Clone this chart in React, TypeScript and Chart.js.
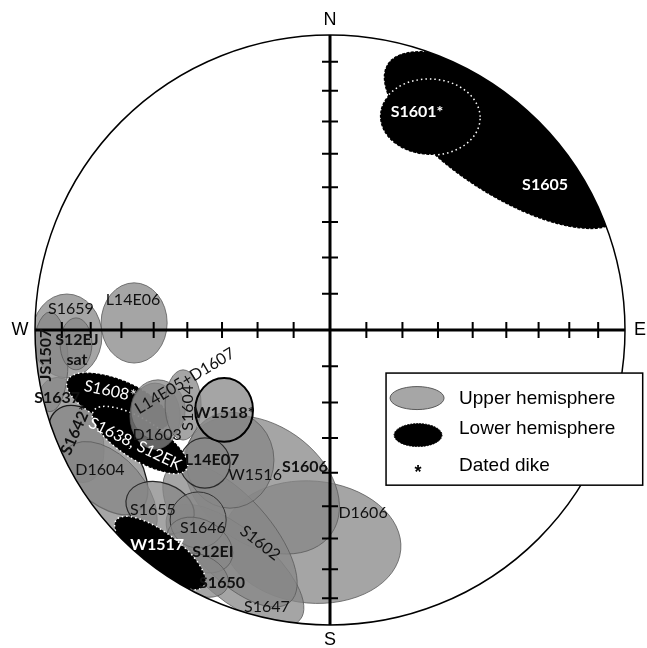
import React, { useEffect, useRef } from "react";
import { Chart, registerables } from "chart.js";
Chart.register(...registerables);

// ---- Data (units: % of primitive-circle radius; E = east, N = north) ----
// Ellipses in drawing order. azimuthA = compass direction of semi-axis A (deg).
const ellipseNames = [
  "D1606", "S1606", "S1647", "S1602", "W1516", "S1637", "S1642*", "D1604", "S1655", "S1646", "S12EI", "S1650",
  "L14E07", "S1659", "JS1507", "S12EJ sat", "L14E06", "S1608*", "S1638, S12EK",
  "D1603", "L14E05+D1607", "S1604", "W1518*", "W1517", "S1605", "S1601*",
];
const hemisphere = [
  "U", "U", "U", "U", "U", "U", "U", "U", "U", "U", "U", "U",
  "U", "U", "U", "U", "U", "L", "L",
  "U", "U", "U", "U", "L", "L", "L",
];
const centerE = [
  -6.1, -23.1, -32.2, -33.9, -33.9, -88.1, -78.6, -75.3, -57.6, -44.7, -44.1, -44.1,
  -42.4, -89.2, -94.9, -86.1, -66.4, -71.9, -64.4,
  -59.3, -58.3, -49.8, -35.9, -57.6, 59.3, 33.9,
];
const centerN = [
  -71.9, -52.5, -79.7, -69.5, -44.1, -33.9, -44.1, -55.9, -60.3, -64.4, -72.9, -83.1,
  -45.1, -2.0, -10.8, -4.7, 2.4, -24.4, -37.3,
  -29.2, -27.1, -25.4, -27.1, -75.6, 64.4, 72.2,
];
const semiA = [
  30.2, 28.8, 28.8, 30.5, 14.9, 18.6, 22.0, 21.0, 11.9, 9.5, 11.9, 10.2,
  8.5, 11.9, 6.1, 5.4, 11.2, 18.6, 18.6,
  8.5, 9.2, 6.1, 9.8, 18.6, 47.5, 17.0,
];
const semiB = [
  20.7, 20.3, 11.9, 13.6, 16.3, 10.2, 11.9, 12.9, 8.5, 9.5, 8.5, 6.8,
  8.5, 14.2, 16.9, 8.8, 13.6, 7.5, 6.8,
  11.2, 10.2, 11.9, 10.8, 6.8, 18.6, 12.9,
];
const azimuthA = [
  95, 125, 130, 138, 90, 160, 140, 140, 110, 90, 120, 115,
  90, 90, 90, 90, 90, 113, 122,
  90, 90, 90, 90, 127, 123, 92,
];

// Labels
const labelText = [
  "S1601*", "S1605", "L14E06", "S1659", "S12EJ", "sat", "JS1507", "S1637", "S1608*", "S1642*",
  "S1638, S12EK", "D1603", "L14E05+D1607", "S1604", "W1518*", "L14E07", "W1516", "S1606", "D1606",
  "D1604", "S1655", "S1646", "W1517", "S12EI", "S1650", "S1602", "S1647",
];
const labelE = [
  29.5, 72.9, -66.8, -87.8, -85.8, -85.8, -96.3, -92.5, -74.6, -86.1,
  -66.1, -58.6, -49.2, -48.1, -35.9, -40.0, -25.4, -8.5, 11.2,
  -78.0, -60.0, -43.1, -58.6, -39.7, -36.6, -23.7, -21.4,
];
const labelN = [
  73.9, 49.2, 10.2, 7.1, -3.4, -10.2, -8.5, -23.1, -20.7, -33.9,
  -38.6, -35.6, -17.3, -26.4, -28.1, -44.1, -49.2, -46.4, -62.0,
  -47.5, -61.0, -67.1, -72.9, -75.3, -85.8, -72.2, -93.9,
];
const labelRotation = [
  0, 0, 0, 0, 0, 0, -90, 0, 12, -66,
  26, 0, -31, -90, 0, 0, 0, 0, 0,
  0, 0, 0, 0, 0, 0, 38, 0,
];
const labelBold = [
  true, true, false, false, true, true, true, true, false, true,
  false, false, false, false, true, true, false, true, false,
  false, false, false, true, true, true, false, false,
];
const labelWhite = [
  true, true, false, false, false, false, false, false, true, false,
  true, false, false, false, false, false, false, false, false,
  false, false, false, true, false, false, false, false,
];

// Tick marks on the axes: angular distance from centre (deg), equal-area net
const tickAngles = [10, 20, 30, 40, 50, 60, 70, 80];
const directionLabels = ["N", "E", "S", "W"];
const legendItems = ["Upper hemisphere", "Lower hemisphere", "Dated dike"];

// ---- Styles ----
const strongOutline: Record<string, [string, number]> = {
  "W1518*": ["#000000", 2],
  "L14E07": ["#2a2a2a", 1.2],
  "S1655": ["#2a2a2a", 1.2],
  "S1646": ["#333333", 1],
  "S1642*": ["#1a1a1a", 1.3],
};
const LABEL_FONT = "Lato, 'Open Sans', sans-serif";

const stereoPlugin = {
  id: "stereo",
  beforeDatasetsDraw(chart: any) {
    const { ctx } = chart;
    const xs = chart.scales.x;
    const ys = chart.scales.y;
    const cx = xs.getPixelForValue(0);
    const cy = ys.getPixelForValue(0);
    const R = xs.getPixelForValue(100) - cx;
    const k = R / 100;
    ctx.save();
    ctx.beginPath();
    ctx.arc(cx, cy, R, 0, Math.PI * 2);
    ctx.clip();
    for (let i = 0; i < ellipseNames.length; i++) {
      const px = xs.getPixelForValue(centerE[i]);
      const py = ys.getPixelForValue(centerN[i]);
      const rot = ((azimuthA[i] - 90) * Math.PI) / 180;
      ctx.beginPath();
      ctx.ellipse(px, py, semiA[i] * k, semiB[i] * k, rot, 0, Math.PI * 2);
      if (hemisphere[i] === "U") {
        ctx.fillStyle = "rgba(135,135,135,0.75)";
        ctx.fill();
        const st = strongOutline[ellipseNames[i]] || ["#5a5a5a", 0.8];
        ctx.strokeStyle = st[0];
        ctx.lineWidth = st[1];
        ctx.setLineDash([]);
        ctx.stroke();
      } else {
        ctx.fillStyle = "#000000";
        ctx.fill();
        ctx.strokeStyle = "#ffffff";
        ctx.lineWidth = 1.5;
        ctx.setLineDash([1.5, 3]);
        ctx.stroke();
        ctx.setLineDash([]);
      }
    }
    ctx.restore();

    // primitive circle
    ctx.save();
    ctx.beginPath();
    ctx.arc(cx, cy, R, 0, Math.PI * 2);
    ctx.strokeStyle = "#000";
    ctx.lineWidth = 1.5;
    ctx.stroke();

    // axes
    ctx.lineWidth = 3;
    ctx.beginPath();
    ctx.moveTo(cx - R, cy);
    ctx.lineTo(cx + R, cy);
    ctx.moveTo(cx, cy - R);
    ctx.lineTo(cx, cy + R);
    ctx.stroke();
    ctx.lineWidth = 2;
    ctx.beginPath();
    const tl = 8;
    for (const t of tickAngles) {
      const r = Math.SQRT2 * Math.sin(((t / 2) * Math.PI) / 180) * 100;
      const dx = xs.getPixelForValue(r) - cx;
      const dy = cy - ys.getPixelForValue(r);
      ctx.moveTo(cx + dx, cy - tl); ctx.lineTo(cx + dx, cy + tl);
      ctx.moveTo(cx - dx, cy - tl); ctx.lineTo(cx - dx, cy + tl);
      ctx.moveTo(cx - tl, cy - dy); ctx.lineTo(cx + tl, cy - dy);
      ctx.moveTo(cx - tl, cy + dy); ctx.lineTo(cx + tl, cy + dy);
    }
    ctx.stroke();

    // direction labels
    ctx.fillStyle = "#000";
    ctx.font = "18px 'Liberation Sans', Arial, sans-serif";
    ctx.textAlign = "center";
    ctx.textBaseline = "middle";
    const off = 15;
    const pos: [number, number][] = [
      [cx, cy - R - off],
      [cx + R + off, cy],
      [cx, cy + R + off],
      [cx - R - off, cy],
    ];
    directionLabels.forEach((d, i) => ctx.fillText(d, pos[i][0], pos[i][1]));
    ctx.restore();
  },
  afterDatasetsDraw(chart: any) {
    const { ctx } = chart;
    const xs = chart.scales.x;
    const ys = chart.scales.y;
    ctx.save();
    ctx.textAlign = "center";
    ctx.textBaseline = "middle";
    for (let i = 0; i < labelText.length; i++) {
      const px = xs.getPixelForValue(labelE[i]);
      const py = ys.getPixelForValue(labelN[i]);
      ctx.save();
      ctx.translate(px, py);
      ctx.rotate((labelRotation[i] * Math.PI) / 180);
      ctx.font = (labelBold[i] ? "bold " : "") + "16px " + LABEL_FONT;
      ctx.fillStyle = labelWhite[i] ? "#ffffff" : "#111111";
      ctx.fillText(labelText[i], 0, 0);
      ctx.restore();
    }

    // legend box
    const cx = xs.getPixelForValue(0);
    const R = xs.getPixelForValue(100) - cx;
    const k = R / 100;
    const bx = xs.getPixelForValue(19.0);
    const by = ys.getPixelForValue(-14.6);
    const bw = 87 * k;
    const bh = 38 * k;
    ctx.fillStyle = "#ffffff";
    ctx.fillRect(bx, by, bw, bh);
    ctx.strokeStyle = "#000";
    ctx.lineWidth = 1.5;
    ctx.strokeRect(bx, by, bw, bh);
    const sx = bx + 31;
    // upper symbol
    ctx.beginPath();
    ctx.ellipse(sx, by + 25, 27, 11.5, 0, 0, Math.PI * 2);
    ctx.fillStyle = "#a6a6a6";
    ctx.fill();
    ctx.strokeStyle = "#5a5a5a";
    ctx.lineWidth = 1;
    ctx.stroke();
    // lower symbol
    ctx.beginPath();
    ctx.ellipse(sx + 1, by + 62, 24, 11.5, 0, 0, Math.PI * 2);
    ctx.fillStyle = "#000";
    ctx.fill();
    ctx.setLineDash([1.5, 1.5]);
    ctx.strokeStyle = "#000";
    ctx.stroke();
    ctx.setLineDash([]);
    // star
    ctx.fillStyle = "#000";
    ctx.font = "bold 18px 'Liberation Sans', Arial, sans-serif";
    ctx.textAlign = "center";
    ctx.fillText("*", sx + 1, by + 100);
    ctx.font = "19px 'Liberation Sans', Arial, sans-serif";
    ctx.textAlign = "left";
    const ty = [by + 26, by + 56, by + 93];
    legendItems.forEach((t, i) => ctx.fillText(t, bx + 73, ty[i]));
    ctx.restore();
  },
};

export default function App() {
  const ref = useRef<HTMLCanvasElement | null>(null);
  useEffect(() => {
    if (!ref.current) return;
    const chart = new Chart(ref.current, {
      type: "scatter",
      data: {
        datasets: ellipseNames.map((name, i) => ({
          label: name,
          data: [{ x: centerE[i], y: centerN[i] }],
          pointRadius: 0,
          pointHoverRadius: 0,
        })),
      },
      options: {
        animation: false,
        responsive: false,
        devicePixelRatio: 1,
        layout: { padding: { left: 35, top: 35, right: 22, bottom: 23 } },
        scales: {
          x: { type: "linear", min: -100, max: 100, display: false },
          y: { type: "linear", min: -100, max: 100, display: false },
        },
        plugins: { legend: { display: false }, tooltip: { enabled: false } },
        events: [],
      },
      plugins: [stereoPlugin],
    });
    return () => chart.destroy();
  }, []);
  return (
    <div style={{ position: "fixed", left: 0, top: 0, width: 647, height: 648, background: "#fff" }}>
      <canvas ref={ref} width={647} height={648} style={{ width: 647, height: 648 }} />
    </div>
  );
}
